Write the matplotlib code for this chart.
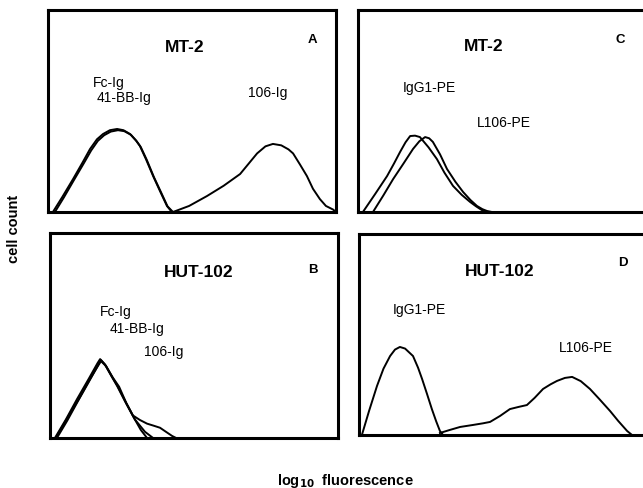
import matplotlib
matplotlib.use("Agg")
import matplotlib.pyplot as plt

plt.rcParams["font.family"] = ["Liberation Sans", "DejaVu Sans"]

# histogram outlines: x = fraction of the log axis, y = fraction of panel height
# A: MT-2, fusion proteins
a_fc_x = [0.017, 0.05, 0.087, 0.12, 0.146, 0.17, 0.191, 0.215, 0.240, 0.262, 0.285, 0.305,
          0.319, 0.34, 0.365, 0.39, 0.413, 0.430]
a_fc_y = [0.0, 0.075, 0.163, 0.245, 0.312, 0.360, 0.386, 0.405, 0.411, 0.405, 0.386, 0.355,
          0.327, 0.262, 0.178, 0.100, 0.030, 0.0]
a_bb_x = [0.024, 0.055, 0.090, 0.123, 0.150, 0.173, 0.195, 0.218, 0.243, 0.265, 0.288, 0.308,
          0.322, 0.343, 0.368, 0.393, 0.415, 0.434]
a_bb_y = [0.0, 0.072, 0.158, 0.238, 0.305, 0.352, 0.380, 0.398, 0.405, 0.400, 0.382, 0.350,
          0.322, 0.258, 0.172, 0.096, 0.028, 0.0]
a_106_x = [0.434, 0.49, 0.552, 0.61, 0.667, 0.70, 0.726, 0.755, 0.781, 0.81, 0.835, 0.851,
           0.875, 0.899, 0.92, 0.944, 0.965, 0.990, 1.0]
a_106_y = [0.0, 0.030, 0.079, 0.130, 0.188, 0.245, 0.290, 0.325, 0.337, 0.330, 0.310, 0.290,
           0.235, 0.178, 0.115, 0.064, 0.030, 0.012, 0.0]

# B: HUT-102, fusion proteins
b_fc_x = [0.017, 0.055, 0.094, 0.135, 0.165, 0.174, 0.19, 0.212, 0.233, 0.260, 0.288, 0.315, 0.337]
b_fc_y = [0.0, 0.090, 0.190, 0.290, 0.365, 0.385, 0.360, 0.305, 0.254, 0.180, 0.107, 0.040, 0.0]
b_bb_x = [0.024, 0.060, 0.097, 0.138, 0.168, 0.177, 0.193, 0.215, 0.236, 0.265, 0.295, 0.330, 0.358]
b_bb_y = [0.0, 0.085, 0.180, 0.282, 0.358, 0.380, 0.355, 0.300, 0.250, 0.170, 0.090, 0.030, 0.0]
b_106_x = [0.020, 0.058, 0.100, 0.140, 0.168, 0.177, 0.195, 0.218, 0.240, 0.265, 0.288, 0.312,
           0.337, 0.360, 0.382, 0.405, 0.424, 0.438]
b_106_y = [0.0, 0.092, 0.190, 0.290, 0.355, 0.375, 0.350, 0.295, 0.250, 0.170, 0.110, 0.088,
           0.070, 0.060, 0.050, 0.028, 0.010, 0.0]

# C: MT-2, PE antibodies
c_igg_x = [0.017, 0.06, 0.101, 0.125, 0.146, 0.165, 0.181, 0.198, 0.215, 0.245, 0.274, 0.30,
           0.330, 0.36, 0.389, 0.410, 0.424, 0.441]
c_igg_y = [0.0, 0.090, 0.178, 0.240, 0.297, 0.345, 0.376, 0.378, 0.371, 0.320, 0.262, 0.195,
           0.129, 0.085, 0.050, 0.028, 0.015, 0.0]
c_l106_x = [0.052, 0.088, 0.122, 0.158, 0.191, 0.213, 0.233, 0.247, 0.260, 0.285, 0.309, 0.338,
            0.365, 0.390, 0.413, 0.432, 0.448, 0.465]
c_l106_y = [0.0, 0.082, 0.163, 0.240, 0.312, 0.350, 0.371, 0.365, 0.347, 0.285, 0.213, 0.150,
            0.099, 0.060, 0.030, 0.014, 0.005, 0.0]

# D: HUT-102, PE antibodies
d_igg_x = [0.010, 0.035, 0.0625, 0.085, 0.108, 0.125, 0.142, 0.160, 0.1875, 0.205, 0.219, 0.236,
           0.253, 0.268, 0.281, 0.292]
d_igg_y = [0.0, 0.120, 0.244, 0.330, 0.393, 0.425, 0.438, 0.430, 0.393, 0.335, 0.279, 0.205,
           0.129, 0.068, 0.020, 0.0]
d_l106_x = [0.281, 0.315, 0.351, 0.396, 0.430, 0.455, 0.490, 0.524, 0.555, 0.583, 0.610, 0.639,
            0.665, 0.6875, 0.715, 0.740, 0.770, 0.802, 0.835, 0.872, 0.900, 0.931, 0.948]
d_l106_y = [0.010, 0.025, 0.040, 0.050, 0.058, 0.065, 0.095, 0.129, 0.140, 0.149, 0.185, 0.229,
            0.252, 0.269, 0.284, 0.289, 0.268, 0.229, 0.178, 0.119, 0.070, 0.020, 0.0]

W, H = 643, 489
fig = plt.figure(figsize=(W / 100, H / 100), dpi=100)


def panel(left, top, right, bottom):
    ax = fig.add_axes([left / W, 1 - bottom / H, (right - left) / W, (bottom - top) / H])
    ax.set_xlim(0, 1); ax.set_ylim(0, 1)
    ax.set_xticks([]); ax.set_yticks([])
    for s in ax.spines.values():
        s.set_linewidth(2.2)
    return ax


ax_a = panel(48, 11, 336, 213)
ax_b = panel(50, 234, 338, 439)
ax_c = panel(358, 11, 646, 213)
ax_d = panel(359, 235, 647, 436)

lw = 1.4
ax_a.plot(a_fc_x, a_fc_y, color="black", lw=lw)
ax_a.plot(a_bb_x, a_bb_y, color="black", lw=lw)
ax_a.plot(a_106_x, a_106_y, color="black", lw=lw)
ax_b.plot(b_fc_x, b_fc_y, color="black", lw=lw)
ax_b.plot(b_bb_x, b_bb_y, color="black", lw=lw)
ax_b.plot(b_106_x, b_106_y, color="black", lw=lw)
ax_c.plot(c_igg_x, c_igg_y, color="black", lw=lw)
ax_c.plot(c_l106_x, c_l106_y, color="black", lw=lw)
ax_d.plot(d_igg_x, d_igg_y, color="black", lw=lw)
ax_d.plot(d_l106_x, d_l106_y, color="black", lw=lw)

title_kw = dict(fontsize=12.5, fontweight="bold", ha="center", va="center")
letter_kw = dict(fontsize=9.5, fontweight="bold", ha="center", va="center")
lab_kw = dict(fontsize=10, ha="left", va="center")

ax_a.text(0.476, 0.817, "MT-2", transform=ax_a.transAxes, **title_kw)
ax_a.text(0.917, 0.856, "A", transform=ax_a.transAxes, **letter_kw)
ax_a.text(0.156, 0.644, "Fc-Ig", transform=ax_a.transAxes, **lab_kw)
ax_a.text(0.170, 0.569, "41-BB-Ig", transform=ax_a.transAxes, **lab_kw)
ax_a.text(0.694, 0.594, "106-Ig", transform=ax_a.transAxes, **lab_kw)

ax_b.text(0.517, 0.810, "HUT-102", transform=ax_b.transAxes, **title_kw)
ax_b.text(0.913, 0.824, "B", transform=ax_b.transAxes, **letter_kw)
ax_b.text(0.174, 0.620, "Fc-Ig", transform=ax_b.transAxes, **lab_kw)
ax_b.text(0.208, 0.537, "41-BB-Ig", transform=ax_b.transAxes, **lab_kw)
ax_b.text(0.326, 0.424, "106-Ig", transform=ax_b.transAxes, **lab_kw)

ax_c.text(0.4375, 0.822, "MT-2", transform=ax_c.transAxes, **title_kw)
ax_c.text(0.910, 0.856, "C", transform=ax_c.transAxes, **letter_kw)
ax_c.text(0.156, 0.619, "IgG1-PE", transform=ax_c.transAxes, **lab_kw)
ax_c.text(0.413, 0.446, "L106-PE", transform=ax_c.transAxes, **lab_kw)

ax_d.text(0.490, 0.816, "HUT-102", transform=ax_d.transAxes, **title_kw)
ax_d.text(0.917, 0.861, "D", transform=ax_d.transAxes, **letter_kw)
ax_d.text(0.118, 0.627, "IgG1-PE", transform=ax_d.transAxes, **lab_kw)
ax_d.text(0.694, 0.438, "L106-PE", transform=ax_d.transAxes, **lab_kw)

fig.text(14 / W, 1 - 229 / H, "cell count", rotation=90, fontsize=10.5, fontweight="bold",
         ha="center", va="center")
fig.text(345 / W, 1 - 481 / H, r"log$_{\mathbf{10}}$  fluorescence", fontsize=10.5, fontweight="bold",
         ha="center", va="center")

fig.savefig("out.png", dpi=100)
